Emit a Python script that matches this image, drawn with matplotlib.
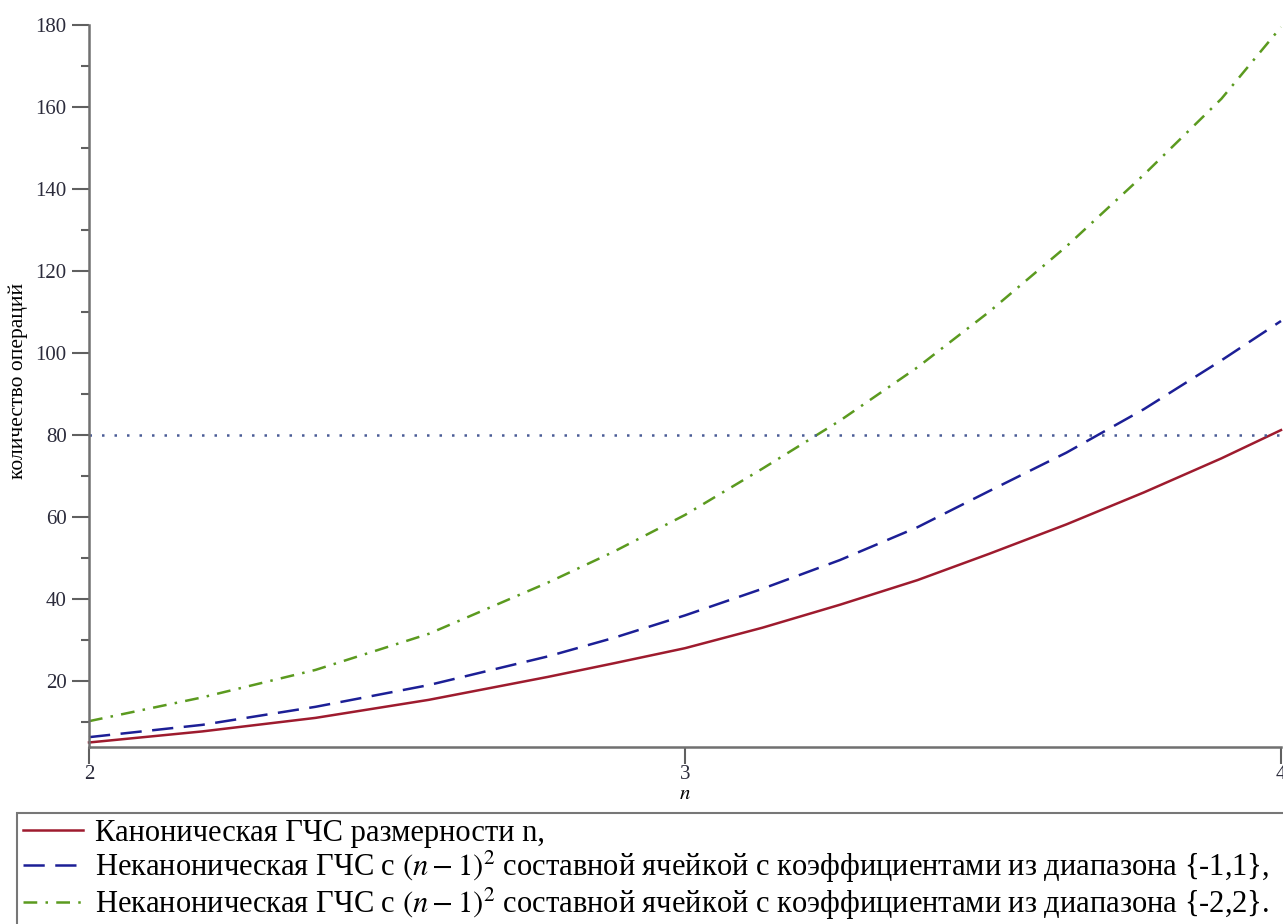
import matplotlib.pyplot as plt
from matplotlib.ticker import MultipleLocator

plt.rcParams['font.family'] = ['Liberation Serif', 'DejaVu Serif']
plt.rcParams['mathtext.fontset'] = 'stix'

# точки
n_vals = [2.0, 2.19, 2.38, 2.57, 2.77, 2.88, 3.0, 3.13, 3.26, 3.39, 3.51, 3.64, 3.77, 3.9, 4.0]
canon = [5.0, 7.7, 11.0, 15.4, 21.0, 24.3, 28.0, 33.0, 38.6, 44.6, 51.0, 58.2, 66.0, 74.3, 81.2]
noncanon_1 = [6.3, 9.3, 13.7, 19.0, 26.0, 30.5, 36.0, 42.5, 49.5, 57.5, 66.3, 75.7, 86.3, 98.2, 107.8]
noncanon_2 = [10.2, 16.0, 22.7, 31.5, 44.0, 51.5, 60.5, 71.8, 83.5, 96.5, 110.0, 126.0, 143.5, 162.0, 179.5]
level = 80

labels = ["Каноническая ГЧС размерности n,",
          "Неканоническая ГЧС с $(n-1)^2$ составной ячейкой с коэффициентами из диапазона {-1,1},",
          "Неканоническая ГЧС с $(n-1)^2$ составной ячейкой с коэффициентами из диапазона {-2,2}."]

W, H = 1283, 924
fig = plt.figure(figsize=(W / 100, H / 100), dpi=100)
ax = fig.add_axes([89 / W, 1 - 747 / H, (1281 - 89) / W, (747 - 25) / H])

ax.plot(n_vals, canon, color='#9e1b2e', lw=1.8, label=labels[0], clip_on=False)
ax.plot(n_vals, noncanon_1, color='#1c1f96', lw=1.8, dashes=(8.5, 4.2), label=labels[1], clip_on=False)
ax.plot(n_vals, noncanon_2, color='#5b9a1f', lw=1.8, dashes=(5.5, 3.3, 1, 3.3), label=labels[2], clip_on=False)
ax.axhline(level, color='#4a5c96', lw=1.8, dashes=(1, 4))

ax.set_xlim(2, 4)
ax.set_ylim(3.9, 180)
ax.set_xticks([2, 3, 4])
ax.yaxis.set_minor_locator(MultipleLocator(10))
ax.set_yticks(range(20, 181, 20))

for s in ['top', 'right']:
    ax.spines[s].set_visible(False)
for s in ['left', 'bottom']:
    ax.spines[s].set_color('#707070')
    ax.spines[s].set_linewidth(1.8)

ax.tick_params(which='major', length=12, width=1.5, color='#606060',
               labelsize=15, labelcolor='#2b2b3b', pad=4)
ax.tick_params(axis='x', pad=1)
ax.tick_params(which='minor', length=6, width=1.5, color='#606060')

ax.set_xlabel('$n$', fontsize=15)
ax.xaxis.set_label_coords(0.5, -(785 - 747) / (747 - 25))
ax.set_ylabel('количество операций', fontsize=15.5)
ax.yaxis.set_label_coords(-(89 - 28) / (1281 - 89), (747 - 381) / (747 - 25))

leg = fig.legend(loc='upper left', bbox_to_anchor=(17 / W, 1 - 813 / H, 1, 0),
                 mode='expand', fontsize=22, frameon=True, fancybox=False,
                 handlelength=1.95, handletextpad=0.4, labelspacing=0.02,
                 borderpad=0.2, borderaxespad=0)
leg.get_frame().set_edgecolor('#555555')
leg.get_frame().set_linewidth(1.5)

fig.savefig('out.png', dpi=100)
